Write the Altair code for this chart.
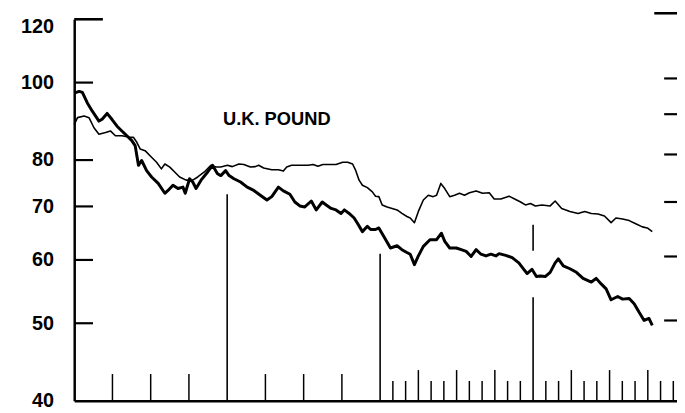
import altair as alt
import pandas as pd

# ---- data (x in months from chart start, y index values) ----
thick_month = [0, 0.39, 0.64, 1.03, 1.42, 1.94, 2.19, 2.58, 2.97, 3.36,
               3.74, 4.13, 4.52, 4.78, 5.04, 5.29, 5.68, 6.07, 6.59, 7.11,
               7.36, 7.75, 8.14, 8.53, 8.71, 9.05, 9.30, 9.56, 9.95, 10.47,
               10.85, 11.24, 11.50, 11.88, 12.15, 12.53, 13.05, 13.57, 14.09, 14.60,
               15.12, 15.50, 16.02, 16.41, 16.92, 17.31, 17.70, 18.09, 18.60, 18.99,
               19.46, 19.77, 20.16, 20.54, 20.93, 21.19, 21.57, 21.96, 22.22, 22.61,
               23.00, 23.26, 23.64, 23.90, 24.29, 24.81, 25.33, 25.71, 26.10, 26.36,
               26.69, 27.00, 27.39, 27.91, 28.43, 28.81, 29.07, 29.46, 29.98, 30.36,
               30.75, 31.14, 31.53, 31.91, 32.30, 32.69, 33.08, 33.33, 33.85, 34.36,
               34.88, 35.27, 35.53, 35.91, 36.26, 36.57, 36.95, 37.34, 37.73, 37.98,
               38.37, 38.89, 39.40, 39.92, 40.57, 40.95, 41.34, 41.73, 42.12, 42.64,
               43.02, 43.54, 43.93, 44.32, 44.71, 45.09, 45.35]
thick_value = [97.0, 97.5, 97.2, 94.3, 92.1, 89.5, 90.0, 91.5, 89.9, 88.2,
               87.0, 85.8, 84.6, 83.4, 78.8, 79.9, 77.6, 76.2, 74.8, 72.7,
               73.3, 74.4, 73.7, 74.0, 72.7, 75.8, 75.1, 73.7, 75.5, 77.3,
               78.8, 76.9, 76.5, 77.6, 76.5, 75.8, 75.1, 74.0, 73.3, 72.3,
               71.3, 72.0, 74.0, 73.2, 72.5, 70.9, 70.1, 69.9, 71.1, 69.3,
               70.9, 70.3, 69.6, 69.3, 68.6, 69.3, 68.6, 67.7, 66.7, 65.1,
               66.1, 65.5, 65.5, 65.8, 64.2, 62.1, 62.5, 61.8, 61.3, 61.0,
               59.2, 60.7, 62.4, 63.6, 63.6, 64.8, 63.3, 62.1, 62.1, 61.8,
               61.5, 60.6, 61.8, 61.0, 60.7, 61.0, 60.7, 61.1, 60.8, 60.4,
               59.5, 58.4, 57.7, 58.4, 57.2, 57.3, 57.2, 57.9, 59.5, 60.2,
               59.0, 58.5, 57.9, 56.9, 56.3, 56.9, 56.0, 55.2, 53.5, 54.0,
               53.6, 53.7, 52.9, 51.6, 50.4, 50.7, 49.7]

thin_month = [0, 0.26, 0.78, 1.16, 1.55, 1.94, 2.46, 2.84, 3.23, 3.74,
              4.26, 4.65, 4.91, 5.17, 5.56, 5.95, 6.46, 6.84, 7.11, 7.50,
              7.88, 8.27, 8.78, 9.30, 9.69, 10.21, 10.72, 11.11, 11.50, 12.02,
              12.40, 12.92, 13.31, 13.82, 14.21, 14.47, 14.86, 15.50, 16.02, 16.41,
              16.67, 17.05, 17.70, 18.35, 18.74, 19.12, 19.51, 20.02, 20.54, 21.06,
              21.45, 21.84, 22.09, 22.35, 22.61, 23.00, 23.39, 23.64, 23.90, 24.16,
              24.55, 24.94, 25.33, 25.71, 26.10, 26.36, 26.69, 27.00, 27.39, 27.78,
              28.16, 28.43, 28.76, 29.07, 29.46, 29.84, 30.23, 30.62, 31.01, 31.53,
              32.04, 32.56, 32.95, 33.47, 34.11, 34.63, 35.02, 35.40, 35.79, 36.18,
              36.69, 37.34, 37.73, 38.24, 38.89, 39.53, 40.05, 40.57, 41.09, 41.60,
              42.12, 42.50, 43.02, 43.54, 44.05, 44.57, 44.96, 45.35]
thin_value = [88.6, 90.4, 90.8, 90.4, 87.8, 86.2, 86.6, 87.0, 85.8, 85.8,
              85.5, 85.4, 84.2, 82.6, 82.2, 81.0, 79.5, 78.0, 79.1, 78.4,
              77.3, 76.2, 75.5, 75.5, 76.2, 77.3, 78.8, 78.4, 78.4, 78.8,
              78.5, 79.1, 79.0, 78.4, 78.5, 78.8, 78.2, 77.8, 77.8, 77.5,
              78.4, 78.8, 78.8, 78.8, 79.0, 78.6, 79.0, 79.0, 79.0, 79.5,
              79.5, 79.1, 77.6, 75.5, 74.4, 73.9, 73.0, 72.1, 72.0, 70.3,
              69.9, 69.6, 69.3, 68.6, 68.0, 67.7, 66.8, 69.0, 71.3, 72.3,
              72.0, 72.3, 74.8, 73.7, 72.0, 72.3, 72.7, 72.3, 72.8, 73.2,
              72.7, 72.8, 71.5, 71.5, 72.1, 71.4, 70.9, 70.3, 70.6, 70.1,
              70.3, 70.1, 71.1, 69.6, 69.0, 68.6, 69.0, 68.6, 68.5, 68.1,
              66.8, 67.7, 67.5, 67.2, 66.6, 66.0, 65.8, 65.1]

y_labels = [40, 50, 60, 70, 80, 100, 120]
left_ticks = [50, 60, 70, 80, 100]
left_top_tick = [120]
right_ticks = [101.2, 91.3, 81.3, 70.9, 60.6, 50.4]
right_top_tick = [122.1]

# year boundary lines (month, lower value, upper value)
boundary_month = [12, 24, 36, 36]
boundary_low = [40, 40, 40, 61.6]
boundary_high = [72.5, 61.1, 53.9, 66.4]

quarter_ticks_early = [3, 6, 9, 15, 18, 21]
quarter_ticks_late = [27, 30, 33, 39, 42, 45]
month_ticks_late = [25, 26, 28, 29, 31, 32, 34, 35, 37, 38, 40, 41, 43, 44, 46, 47]

title_text = "U.K. POUND"

# ---- chart ----
W, H = 610, 386
xs = alt.Scale(domain=[0, 47.29], nice=False, zero=False)
ys = alt.Scale(type="log", domain=[40, 120], nice=False)

df_thick = pd.DataFrame({"month": thick_month, "value": thick_value})
df_thin = pd.DataFrame({"month": thin_month, "value": thin_value})

x_axis = alt.Axis(labels=False, ticks=False, grid=False, domain=True, domainColor="black",
                  domainWidth=2.5, title=None)
y_axis = alt.Axis(values=y_labels, ticks=False, grid=False, domain=True,
                  labelPadding=21, labelFont="Liberation Sans", labelFontSize=20,
                  labelFontWeight="bold", labelColor="black",
                  labelOffset={"condition": {"test": "datum.value === 120", "value": 7}, "value": 0},
                  domainColor="black", domainWidth=2.5, title=None)

thick = alt.Chart(df_thick).mark_line(color="black", strokeWidth=3, strokeJoin="round").encode(
    x=alt.X("month:Q", scale=xs, axis=x_axis),
    y=alt.Y("value:Q", scale=ys, axis=y_axis),
)
thin = alt.Chart(df_thin).mark_line(color="black", strokeWidth=1.6, strokeJoin="round").encode(
    x=alt.X("month:Q", scale=xs),
    y=alt.Y("value:Q", scale=ys),
)

def hticks(vals, x0, x1, width=2.2):
    return alt.Chart(pd.DataFrame({"value": vals})).mark_rule(color="black", strokeWidth=width).encode(
        x=alt.value(x0), x2=alt.value(x1),
        y=alt.Y("value:Q", scale=ys),
    )

lt = hticks(left_ticks, 0, 19)
ltt = hticks(left_top_tick, 0, 29, 2.6)
rt = hticks(right_ticks, 597, 612)
rtt = hticks(right_top_tick, 587, 612, 2.6)

df_b = pd.DataFrame({"month": boundary_month, "value": boundary_low, "high": boundary_high})
bounds = alt.Chart(df_b).mark_rule(color="black", strokeWidth=1.6).encode(
    x=alt.X("month:Q", scale=xs),
    y=alt.Y("value:Q", scale=ys),
    y2="high:Q",
)

def vticks(months, top):
    return alt.Chart(pd.DataFrame({"month": months})).mark_rule(color="black", strokeWidth=1.5).encode(
        x=alt.X("month:Q", scale=xs),
        y=alt.value(H), y2=alt.value(top),
    )

qe = vticks(quarter_ticks_early, H - 27)
ql = vticks(quarter_ticks_late, H - 31)
ml = vticks(month_ticks_late, H - 20)

label = alt.Chart(pd.DataFrame({"t": [title_text]})).mark_text(
    font="Liberation Sans", fontSize=18.5, fontWeight="bold", color="black",
    align="center", baseline="middle"
).encode(
    x=alt.value(205),
    y=alt.value(101),
    text="t:N",
)

chart = alt.layer(thick, thin, lt, ltt, rt, rtt, bounds, qe, ql, ml, label).properties(
    width=W, height=H,
    autosize=alt.AutoSizeParams(type="none"),
    padding={"left": 67, "top": 9, "right": 0, "bottom": 10},
    background="white",
).configure_view(stroke=None)

chart.save("out.html", embed_options={"renderer": "svg", "actions": False})
